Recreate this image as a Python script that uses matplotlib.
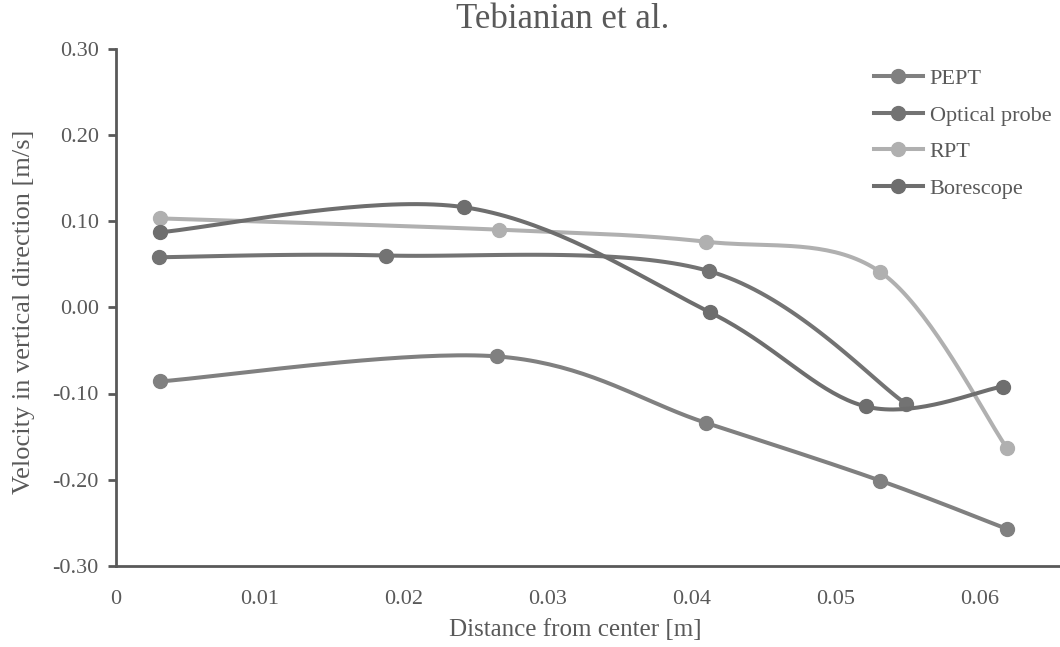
import matplotlib
matplotlib.use("Agg")
import matplotlib.pyplot as plt
import numpy as np

# values
pept_x = [0.0031, 0.0265, 0.0410, 0.0531, 0.0619]
pept_y = [-0.086, -0.057, -0.134, -0.201, -0.257]

optical_x = [0.0030, 0.0188, 0.0412, 0.0549]
optical_y = [0.058, 0.060, 0.042, -0.112]

rpt_x = [0.0031, 0.0266, 0.0410, 0.0531, 0.0619]
rpt_y = [0.103, 0.090, 0.076, 0.041, -0.163]

borescope_x = [0.0031, 0.0242, 0.0413, 0.0521, 0.0616]
borescope_y = [0.087, 0.116, -0.006, -0.115, -0.092]

x_ticks = [0, 0.01, 0.02, 0.03, 0.04, 0.05, 0.06]
x_ticklabels = ["0", "0.01", "0.02", "0.03", "0.04", "0.05", "0.06"]
y_ticks = [-0.3, -0.2, -0.1, 0.0, 0.1, 0.2, 0.3]

TEXT = "#595959"


def smooth(xs, ys, n=40):
    # catmull-rom through the points, like a spreadsheet "smoothed line"
    p = np.column_stack([xs, ys]).astype(float)
    p = np.vstack([p[0], p, p[-1]])
    out = []
    t = np.linspace(0, 1, n)[:, None]
    for i in range(1, len(p) - 2):
        p0, p1, p2, p3 = p[i - 1], p[i], p[i + 1], p[i + 2]
        c1 = p1 + (p2 - p0) / 6
        c2 = p2 - (p3 - p1) / 6
        seg = ((1 - t) ** 3) * p1 + 3 * ((1 - t) ** 2) * t * c1 \
            + 3 * (1 - t) * t ** 2 * c2 + t ** 3 * p2
        out.append(seg)
    curve = np.vstack(out)
    return curve[:, 0], curve[:, 1]


plt.rcParams["font.family"] = ["Liberation Serif", "DejaVu Serif"]

fig = plt.figure(figsize=(10.6, 6.47), dpi=100)
ax = fig.add_axes([115.5 / 1060, 81 / 647, (1060 - 115.5) / 1060, (566 - 48.5) / 647])

series = [
    ("PEPT", pept_x, pept_y, "#808080"),
    ("Optical probe", optical_x, optical_y, "#737373"),
    ("RPT", rpt_x, rpt_y, "#b0b0b0"),
    ("Borescope", borescope_x, borescope_y, "#6e6e6e"),
]
for label, xs, ys, col in series:
    sx, sy = smooth(xs, ys)
    ax.plot(sx, sy, color=col, linewidth=2.9, solid_capstyle="round")
    ax.plot(xs, ys, linestyle="", marker="o", markersize=10, color=col)
    ax.plot([], [], color=col, linewidth=2.9, marker="o", markersize=10, label=label)

ax.set_xlim(0, 944.5 / 14400)
ax.set_ylim(-0.3, 0.3)
ax.set_xticks(x_ticks)
ax.set_xticklabels(x_ticklabels)
ax.set_yticks(y_ticks)
ax.set_yticklabels([f"{v:.2f}" for v in y_ticks])

for s in ["top", "right"]:
    ax.spines[s].set_visible(False)
for s in ["left", "bottom"]:
    ax.spines[s].set_color(TEXT)
    ax.spines[s].set_linewidth(2)
ax.tick_params(axis="x", length=0, pad=17, labelsize=16, labelcolor=TEXT)
ax.tick_params(axis="y", length=6, width=2, color=TEXT, pad=6, labelsize=16, labelcolor=TEXT)

fig.text(575 / 1060, 1 - 630 / 647, "Distance from center [m]", fontsize=18,
         color=TEXT, ha="center", va="center")
fig.text(24 / 1060, 1 - 312 / 647, "Velocity in vertical direction [m/s]", fontsize=19,
         color=TEXT, ha="center", va="center", rotation=90)
fig.text(563 / 1060, 1 - 20 / 647, "Tebianian et al.", fontsize=25, color=TEXT,
         ha="center", va="center")

leg = ax.legend(loc="upper left", bbox_to_anchor=(854 / 1060, 1 - 48.5 / 647),
                bbox_transform=fig.transFigure, frameon=False, fontsize=16,
                handlelength=2.2, handletextpad=0.3, labelspacing=0.72)
for t in leg.get_texts():
    t.set_color(TEXT)

fig.savefig("out.png", dpi=100)
